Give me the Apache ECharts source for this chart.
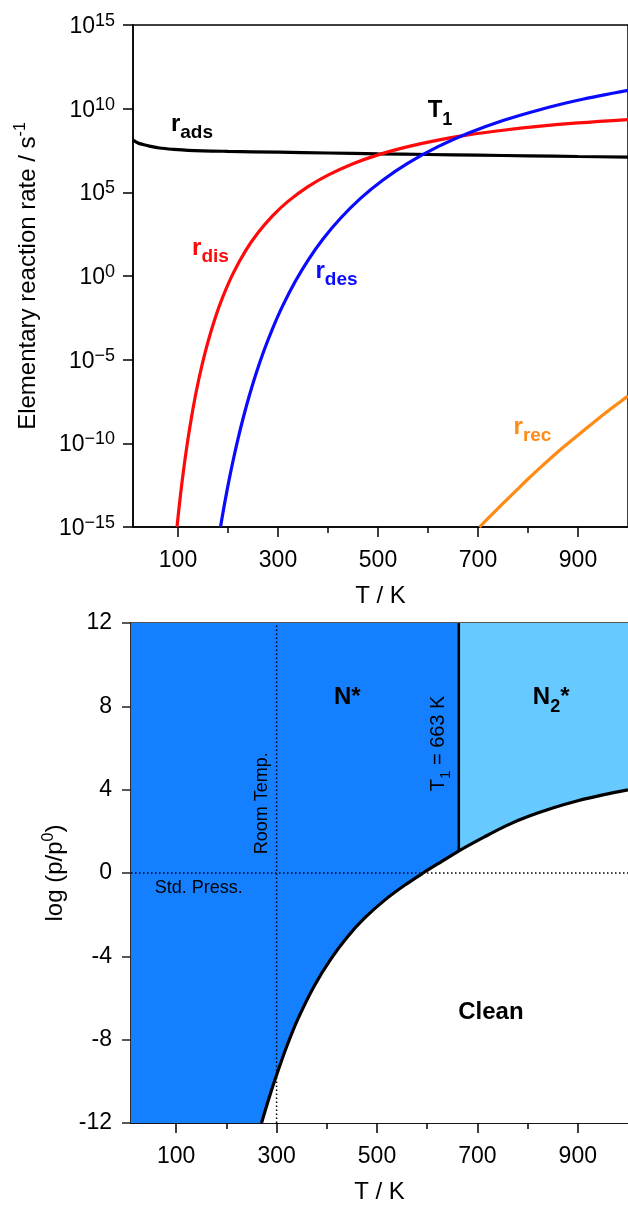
<!DOCTYPE html>
<html><head><meta charset="utf-8">
<script src="https://cdn.jsdelivr.net/npm/echarts@6/dist/echarts.min.js"></script>
<style>html,body{margin:0;padding:0;background:#fff}#c{width:628px;height:1205px}</style>
</head><body><div id="c"></div>
<script>
// ---- Top panel: elementary reaction rates, log10(rate / s^-1) vs T / K ----
const tAds   = [10, 20, 30, 45, 63, 90, 120, 200, 300, 400, 500, 600, 700, 800, 900, 1000];
const logAds = [8.13, 7.95, 7.86, 7.75, 7.65, 7.57, 7.51, 7.45, 7.40, 7.35, 7.30, 7.26, 7.22, 7.18, 7.14, 7.11];

const tDis   = [98, 102, 107, 113, 120, 128, 137, 148, 160, 175, 190, 210, 235, 260, 290, 320, 360, 400, 450, 500, 560, 620, 680, 750, 820, 900, 1000];
const logDis = [-15.0, -13.87, -12.57, -11.18, -9.73, -8.27, -6.83, -5.33, -3.93, -2.45, -1.22, 0.14, 1.50, 2.58, 3.62, 4.46, 5.34, 6.03, 6.71, 7.24, 7.73, 8.12, 8.43, 8.71, 8.94, 9.15, 9.35];

const tDes   = [185, 190, 196, 203, 211, 220, 230, 242, 256, 272, 290, 310, 335, 360, 390, 425, 465, 510, 560, 620, 680, 750, 820, 900, 1000];
const logDes = [-15.0, -14.13, -13.14, -12.06, -10.92, -9.73, -8.53, -7.22, -5.84, -4.45, -3.08, -1.74, -0.30, 0.94, 2.21, 3.45, 4.64, 5.74, 6.75, 7.73, 8.53, 9.29, 9.91, 10.50, 11.09];

const tRec   = [703, 720, 740, 760, 780, 800, 830, 860, 895, 930, 960, 984, 1000];
const logRec = [-15.0, -14.48, -13.89, -13.30, -12.72, -12.13, -11.30, -10.50, -9.63, -8.78, -8.07, -7.53, -7.17];

// ---- Bottom panel: phase diagram, log(p/p0) vs T / K ----
const tBnd   = [270, 285, 300, 320, 343, 375, 408, 441, 475, 516, 555, 592, 630, 661, 713, 760, 802, 850, 900, 950, 1000];
const logBnd = [-12, -10.8, -9.7, -8.34, -6.98, -5.42, -4.13, -3.07, -2.17, -1.29, -0.59, 0, 0.57, 1.03, 1.72, 2.3, 2.72, 3.12, 3.47, 3.75, 3.99];
const T1 = 663;          // K, N* / N2* boundary
const T1Bottom = 1.06;   // log(p/p0) where T1 line meets the boundary
const roomTemp = 300;    // K
const stdPress = 0;      // log(p/p0)

// axis ticks
const tMajor = [100, 300, 500, 700, 900];
const tMinor = [200, 400, 600, 800];

const zip = (a, b) => a.map((v, i) => [v, b[i]]);
const FONT = 'Liberation Sans, Arial, Helvetica, sans-serif';

const subRich = (color) => ({
  r: {fontSize: 24, fontWeight: 'bold', color, fontFamily: FONT, verticalAlign: 'bottom', padding: [0, 0, 6, 0]},
  s: {fontSize: 19, fontWeight: 'bold', color, fontFamily: FONT, verticalAlign: 'bottom'}
});

function xMajor(grid, name) {
  return {
    gridIndex: grid, type: 'value', min: 10, max: 1000, position: 'bottom',
    axisLine: {show: true, onZero: false, lineStyle: {color: '#000', width: 1.5}},
    axisTick: {show: true, length: 10, customValues: tMajor, lineStyle: {color: '#000', width: 1.5}},
    axisLabel: {customValues: tMajor, margin: 22, fontSize: 23, color: '#000', fontFamily: FONT},
    splitLine: {show: false},
    name: name, nameLocation: 'middle', nameGap: 57,
    nameTextStyle: {fontSize: 24, color: '#000', fontFamily: FONT}
  };
}
function xMinor(grid) {
  return {
    gridIndex: grid, type: 'value', min: 10, max: 1000, position: 'bottom',
    axisLine: {show: false, onZero: false},
    axisTick: {show: true, length: 6, customValues: tMinor, lineStyle: {color: '#000', width: 1.5}},
    axisLabel: {show: false}, splitLine: {show: false}
  };
}

const chart = echarts.init(document.getElementById('c'), null, {renderer: 'canvas'});
const fmtExp = v => '{b|10}{p|' + (v < 0 ? '\u2212' + (-v) : v) + '}';
const SM = 0.35;

const option = {
  animation: false,
  backgroundColor: '#fff',
  grid: [
    {left: 133, top: 25, width: 503, height: 502, show: true, borderColor: '#000', borderWidth: 1.5, backgroundColor: 'transparent'},
    {left: 131, top: 623, width: 502, height: 502, show: true, borderColor: '#222', borderWidth: 1.5, backgroundColor: 'transparent'}
  ],
  xAxis: [xMajor(0, 'T / K'), xMinor(0), xMajor(1, 'T / K'), xMinor(1)],
  yAxis: [
    {
      gridIndex: 0, type: 'value', min: -15, max: 15, interval: 5,
      axisLine: {show: true, onZero: false, lineStyle: {color: '#000', width: 1.5}},
      axisTick: {show: true, length: 10, lineStyle: {color: '#000', width: 1.5}},
      axisLabel: {
        margin: 18, formatter: fmtExp, color: '#000',
        rich: {
          b: {fontSize: 23, color: '#000', fontFamily: FONT, verticalAlign: 'bottom'},
          p: {fontSize: 18, color: '#000', fontFamily: FONT, verticalAlign: 'bottom', padding: [0, 0, 8, 0]}
        }
      },
      splitLine: {show: false},
      name: '{t|Elementary reaction rate / s}{p|-1}', nameLocation: 'middle', nameGap: 93,
      nameTextStyle: {
        rich: {
          t: {fontSize: 24, color: '#000', fontFamily: FONT, verticalAlign: 'bottom'},
          p: {fontSize: 16, color: '#000', fontFamily: FONT, verticalAlign: 'bottom', padding: [0, 0, 11, 0]}
        }
      }
    },
    {
      gridIndex: 1, type: 'value', min: -12, max: 12, interval: 4,
      axisLine: {show: true, onZero: false, lineStyle: {color: '#222', width: 1.5}},
      axisTick: {show: true, length: 9, lineStyle: {color: '#222', width: 1.5}},
      axisLabel: {margin: 19, fontSize: 23, color: '#000', fontFamily: FONT},
      splitLine: {show: false},
      name: '{t|log (p/p}{p|0}{t|)}', nameLocation: 'middle', nameGap: 62,
      nameTextStyle: {
        rich: {
          t: {fontSize: 24, color: '#000', fontFamily: FONT, verticalAlign: 'bottom'},
          p: {fontSize: 16, color: '#000', fontFamily: FONT, verticalAlign: 'bottom', padding: [0, 0, 11, 0]}
        }
      }
    }
  ],
  series: [
    // top panel curves
    {name: 'r_ads', type: 'line', xAxisIndex: 0, yAxisIndex: 0, data: zip(tAds, logAds), showSymbol: false, smooth: SM, lineStyle: {color: '#000', width: 3.2}},
    {name: 'r_dis', type: 'line', xAxisIndex: 0, yAxisIndex: 0, data: zip(tDis, logDis), showSymbol: false, smooth: SM, lineStyle: {color: '#ff0a0a', width: 3.2}},
    {name: 'r_des', type: 'line', xAxisIndex: 0, yAxisIndex: 0, data: zip(tDes, logDes), showSymbol: false, smooth: SM, lineStyle: {color: '#0a0aff', width: 3.2}},
    {name: 'r_rec', type: 'line', xAxisIndex: 0, yAxisIndex: 0, data: zip(tRec, logRec), showSymbol: false, smooth: SM, lineStyle: {color: '#ff8a14', width: 3.2}},
    {
      name: 'labels-top', type: 'scatter', xAxisIndex: 0, yAxisIndex: 0, symbolSize: 1, itemStyle: {color: 'rgba(0,0,0,0)', opacity: 1}, z: 5,
      label: {show: true, position: 'inside'},
      data: [
        {value: [128, 8.9], label: {formatter: '{r|r}{s|ads}', rich: subRich('#000')}},
        {value: [624, 9.68], label: {formatter: '{r|T}{s|1}', rich: {r: {fontSize: 24, fontWeight: 'bold', color: '#000', fontFamily: FONT, verticalAlign: 'bottom', padding: [0, 0, 7, 0]}, s: {fontSize: 18, fontWeight: 'bold', color: '#000', fontFamily: FONT, verticalAlign: 'bottom'}}}},
        {value: [165, 1.5], label: {formatter: '{r|r}{s|dis}', rich: subRich('#ff0a0a')}},
        {value: [417, 0.12], label: {formatter: '{r|r}{s|des}', rich: subRich('#0a0aff')}},
        {value: [809, -9.2], label: {formatter: '{r|r}{s|rec}', rich: subRich('#ff8a14')}}
      ]
    },
    // bottom panel regions
    {name: 'N*', type: 'line', xAxisIndex: 2, yAxisIndex: 1, data: [[10, 12], [1000, 12]], showSymbol: false, lineStyle: {width: 0}, areaStyle: {color: '#1480ff', opacity: 1, origin: 'start'}},
    {name: 'N2*', type: 'line', xAxisIndex: 2, yAxisIndex: 1, data: [[T1, 12], [1000, 12]], showSymbol: false, lineStyle: {width: 0}, areaStyle: {color: '#66c9ff', opacity: 1, origin: 'start'}},
    {name: 'Clean', type: 'line', xAxisIndex: 2, yAxisIndex: 1, data: zip(tBnd, logBnd), showSymbol: false, smooth: SM, lineStyle: {width: 0}, areaStyle: {color: '#ffffff', opacity: 1, origin: 'start'}},
    {name: 'Room Temp.', type: 'line', xAxisIndex: 2, yAxisIndex: 1, data: [[roomTemp, -12], [roomTemp, 12]], showSymbol: false, lineStyle: {color: '#000', width: 1.5, type: [1.5, 2.5]}},
    {name: 'Std. Press.', type: 'line', xAxisIndex: 2, yAxisIndex: 1, data: [[10, stdPress], [1000, stdPress]], showSymbol: false, lineStyle: {color: '#000', width: 1.5, type: [1.5, 2.5]}},
    {name: 'T1', type: 'line', xAxisIndex: 2, yAxisIndex: 1, data: [[T1, 12], [T1, T1Bottom]], showSymbol: false, lineStyle: {color: '#000', width: 2.5}},
    {name: 'boundary', type: 'line', xAxisIndex: 2, yAxisIndex: 1, data: zip(tBnd, logBnd), showSymbol: false, smooth: SM, lineStyle: {color: '#000', width: 3.2}},
    {
      name: 'labels-bottom', type: 'scatter', xAxisIndex: 2, yAxisIndex: 1, symbolSize: 1, itemStyle: {color: 'rgba(0,0,0,0)', opacity: 1}, z: 5,
      label: {show: true, position: 'inside'},
      data: [
        {value: [441, 8.42], label: {formatter: 'N*', fontSize: 24, fontWeight: 'bold', color: '#000', fontFamily: FONT}},
        {value: [847, 8.28], label: {formatter: '{r|N}{s|2}{r|*}', rich: {r: {fontSize: 24, fontWeight: 'bold', color: '#000', fontFamily: FONT, verticalAlign: 'bottom', padding: [0, 0, 7, 0]}, s: {fontSize: 18, fontWeight: 'bold', color: '#000', fontFamily: FONT, verticalAlign: 'bottom'}}}},
        {value: [727, -6.7], label: {formatter: 'Clean', fontSize: 24, fontWeight: 'bold', color: '#000', fontFamily: FONT}},
        {value: [627, 6.22], label: {rotate: 90, formatter: '{r|T}{s|1}{r| = 663 K}', rich: {r: {fontSize: 20, color: '#000', fontFamily: FONT, verticalAlign: 'bottom', padding: [0, 0, 5, 0]}, s: {fontSize: 15, color: '#000', fontFamily: FONT, verticalAlign: 'bottom'}}}},
        {value: [271, 3.35], label: {rotate: 90, formatter: 'Room Temp.', fontSize: 18, color: '#000', fontFamily: FONT}},
        {value: [145, -0.72], label: {formatter: 'Std. Press.', fontSize: 18, color: '#000', fontFamily: FONT}}
      ]
    }
  ]
};
chart.setOption(option);
</script>
</body></html>
